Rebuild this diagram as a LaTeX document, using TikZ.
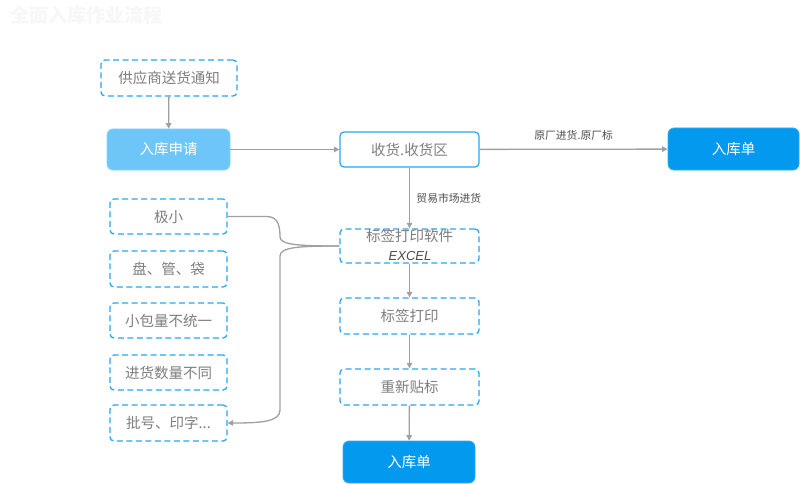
\documentclass[tikz,border=0pt]{standalone}
\usepackage{fontspec}
\setmainfont{Liberation Sans}
\newfontfamily\cjk{Noto Sans CJK SC}
\usetikzlibrary{arrows.meta}
\definecolor{dashblue}{HTML}{2AA6F2}
\definecolor{lightfill}{HTML}{6EC6F8}
\definecolor{darkfill}{HTML}{0399EE}
\definecolor{txtgray}{HTML}{7E7E7E}
\definecolor{linegray}{HTML}{A0A0A0}
\tikzset{
  x=1pt, y=-1pt,
  dbox/.style={draw=dashblue, line width=1.3pt, dash pattern=on 6pt off 3.5pt, rounded corners=4pt, fill=white,
    minimum width=#1, inner sep=0pt, font=\cjk\fontsize{14.5}{16}\selectfont, text=txtgray},
  dbox/.default=117pt,
  sbox/.style={draw=dashblue, line width=1.2pt, rounded corners=4pt, fill=white, minimum width=139pt, minimum height=35pt,
    inner sep=0pt, font=\cjk\fontsize{14.5}{16}\selectfont, text=txtgray},
  fbox/.style={draw=#1!80!white, line width=0.8pt, fill=#1, rounded corners=6pt, inner sep=0pt,
    font=\cjk\fontsize{14.5}{16}\selectfont, text=white},
  conn/.style={draw=linegray, line width=1.3pt, -{Triangle[length=5.5pt,width=5.5pt]}},
  curve/.style={draw=linegray, line width=1.3pt},
  lbl/.style={font=\cjk\fontsize{10.8}{12}\selectfont, text=black!70}
}
\begin{document}
\begin{tikzpicture}
\useasboundingbox (0,0) rectangle (800,484);
\fill[white] (0,0) rectangle (800,484);
\node[font=\cjk\bfseries\fontsize{19}{21}\selectfont, text=white!97!black, anchor=west] (title) at (7,15) {全面入库作业流程};

\node[dbox=136pt, minimum height=36pt] (notify) at (169,78) {供应商送货通知};
\node[fbox=lightfill, minimum width=123pt, minimum height=41pt] (apply) at (168.5,149.5) {入库申请};
\node[sbox] (recv) at (409.5,149.5) {收货.收货区};
\node[fbox=darkfill, minimum width=131pt, minimum height=42pt] (outR) at (733.5,149) {入库单};

\node[dbox=139pt, minimum height=34pt, align=center] (soft) at (409.5,246) {};
\node[font=\cjk\fontsize{14.5}{16}\selectfont, text=txtgray] (softt) at (409.5,236) {标签打印软件};
\node[font=\itshape\fontsize{13}{14}\selectfont, text=black!70] (excel) at (410,256) {EXCEL};
\node[dbox=139pt, minimum height=36pt] (print) at (409.5,316) {标签打印};
\node[dbox=139pt, minimum height=36pt] (relabel) at (409.5,387) {重新贴标};
\node[fbox=darkfill, minimum width=132pt, minimum height=42pt] (outB) at (409,462) {入库单};

\node[dbox, minimum height=35pt] (l1) at (168.5,216.5) {极小};
\node[dbox, minimum height=36pt] (l2) at (168.5,269) {盘、管、袋};
\node[dbox, minimum height=35pt] (l3) at (168.5,320.5) {小包量不统一};
\node[dbox, minimum height=35pt] (l4) at (168.5,372.5) {进货数量不同};
\node[dbox, minimum height=36pt] (l5) at (168.5,423) {批号、印字...};

\draw[conn] (notify) -- (apply);
\draw[conn] (apply) -- (recv);
\draw[conn] (recv) -- node[lbl, above=5pt] {原厂进货.原厂标} (outR);
\draw[conn] (recv) -- node[lbl, right=3pt, pos=0.5] {贸易市场进货} (soft);
\draw[conn] (soft) -- (print);
\draw[conn] (print) -- (relabel);
\draw[conn] (relabel) -- (outB);

\coordinate (j1) at (266,216.5);
\coordinate (j2) at (280,237);
\coordinate (j3) at (280,256);
\coordinate (j4) at (280,410);
\draw[curve] (l1.east) -- (j1) .. controls (276,216.5) and (280,222) .. (j2)
  .. controls (280,245) and (300,246) .. (soft.west);
\draw[conn] (soft.west) .. controls (300,246) and (280,247) .. (j3)
  -- (j4) .. controls (280,422) and (260,423) .. (l5.east);
\end{tikzpicture}
\end{document}
